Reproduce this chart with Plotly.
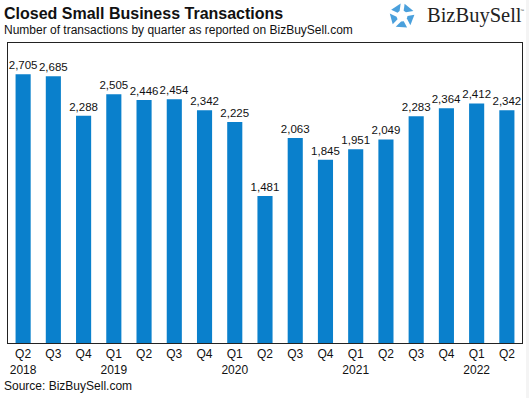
import plotly.graph_objects as go
import math

quarters = ["Q2", "Q3", "Q4", "Q1", "Q2", "Q3", "Q4", "Q1", "Q2", "Q3", "Q4",
            "Q1", "Q2", "Q3", "Q4", "Q1", "Q2"]
years = ["2018", "", "", "2019", "", "", "", "2020", "", "", "",
         "2021", "", "", "", "2022", ""]
transactions = [2705, 2685, 2288, 2505, 2446, 2454, 2342, 2225, 1481, 2063,
                1845, 1951, 2049, 2283, 2364, 2412, 2342]

W, H = 529, 398
ML, MR, MT, MB = 8, 7, 43, 55
PW = W - ML - MR
PH = H - MT - MB


def px(x):
    return (x - ML) / PW


def py(y):
    return (H - MB - y) / PH


x_idx = list(range(len(transactions)))
labels = [f"{v:,}" for v in transactions]
ticktext = [q + ("<br>" + y if y else "") for q, y in zip(quarters, years)]

fig = go.Figure()
fig.add_trace(go.Bar(
    x=x_idx, y=transactions, width=0.5,
    marker=dict(color="#0A80CC", line=dict(width=0)),
    text=labels, textposition="outside", cliponaxis=False,
    constraintext="none",
    textfont=dict(family="Liberation Sans, Arial", size=11.5, color="#111111"),
    hoverinfo="skip",
))

font = "Liberation Sans, Arial, sans-serif"
annotations = [
    dict(text="<b>Closed Small Business Transactions</b>", x=px(2), y=py(3),
         xref="paper", yref="paper", xanchor="left", yanchor="top",
         showarrow=False, font=dict(family=font, size=16, color="#111111")),
    dict(text="Number of transactions by quarter as reported on BizBuySell.com",
         x=px(2), y=py(21), xref="paper", yref="paper", xanchor="left",
         yanchor="top", showarrow=False,
         font=dict(family=font, size=12, color="#111111")),
    dict(text="Source: BizBuySell.com", x=px(2), y=py(377), xref="paper",
         yref="paper", xanchor="left", yanchor="top", showarrow=False,
         font=dict(family=font, size=12, color="#111111")),
    dict(text="BizBuySell", x=px(425), y=py(2), xref="paper", yref="paper",
         xanchor="left", yanchor="top", showarrow=False,
         font=dict(family="Liberation Serif, Times New Roman, serif", size=20.5,
                   color="#222222")),
    dict(text="™", x=px(518), y=py(6), xref="paper", yref="paper",
         xanchor="left", yanchor="top", showarrow=False,
         font=dict(family=font, size=4, color="#444444")),
]

# logo icon: ring of five pieces
shapes = []
cx, cy, ro, ri = 402, 16, 12.5, 5.5
for k in range(5):
    a0 = math.radians(-90 + 72 * k + 12)
    a1 = math.radians(-90 + 72 * k + 72 - 6)
    pts = [
        (cx + ro * math.cos(a0), cy + ro * math.sin(a0)),
        (cx + ro * math.cos(a1), cy + ro * math.sin(a1)),
        (cx + ri * math.cos(a1 - 0.35), cy + ri * math.sin(a1 - 0.35)),
        (cx + ri * math.cos(a0 + 0.1), cy + ri * math.sin(a0 + 0.1)),
    ]
    path = "M " + " L ".join(f"{px(x):.5f},{py(y):.5f}" for x, y in pts) + " Z"
    shapes.append(dict(type="path", path=path, xref="paper", yref="paper",
                       fillcolor="#4AA0DC", line=dict(width=0)))

# faint strip at right edge
shapes.append(dict(type="rect", xref="paper", yref="paper", x0=px(526),
                   x1=px(530), y0=py(0), y1=py(398), fillcolor="#F4F4F4",
                   line=dict(width=0), layer="below"))

fig.update_layout(
    width=W, height=H,
    margin=dict(l=ML, r=MR, t=MT, b=MB),
    paper_bgcolor="white", plot_bgcolor="white",
    showlegend=False,
    annotations=annotations,
    shapes=shapes,
    xaxis=dict(
        tickmode="array", tickvals=x_idx, ticktext=ticktext,
        range=[-0.5, len(transactions) - 0.5],
        showgrid=False, zeroline=False,
        showline=True, mirror=True, linecolor="#222222", linewidth=1,
        ticks="", tickfont=dict(family=font, size=12, color="#111111"),
        fixedrange=True,
    ),
    yaxis=dict(
        range=[0, 3020], showgrid=False, zeroline=False,
        showline=True, mirror=True, linecolor="#222222", linewidth=1,
        showticklabels=False, ticks="", fixedrange=True,
    ),
)

fig.write_html("out.html", config={"displayModeBar": False},
               post_script="document.body.style.margin='0';"
                           "document.body.style.overflow='hidden';")
